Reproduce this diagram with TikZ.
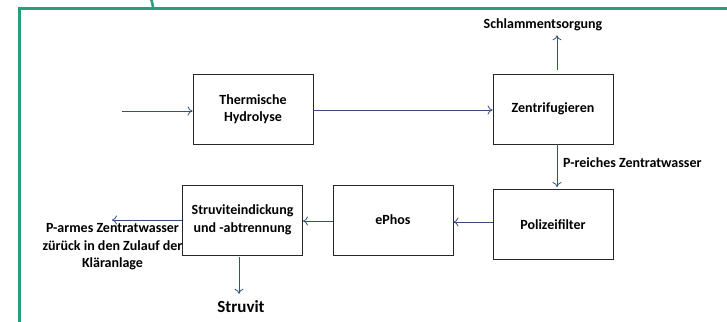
\documentclass[tikz,border=0pt]{standalone}
\usepackage{fontspec}
\setmainfont{Carlito}
\usetikzlibrary{arrows.meta}
\definecolor{rahmen}{RGB}{38,160,124}
\definecolor{pfeil}{RGB}{52,78,125}
\begin{document}
\begin{tikzpicture}[x=1pt,y=-1pt,
    font=\fontsize{14}{17.5}\selectfont\bfseries,
    box/.style={draw=black!85,line width=0.9pt,minimum width=120pt,minimum height=70pt,align=center},
    flow/.style={-{To[length=5pt,width=9pt,open]},draw=pfeil,line width=0.8pt},
    lbl/.style={align=center,inner sep=0pt}]
        \useasboundingbox (0,0) rectangle (727,321);

        % gruener Rahmen
        \draw[rahmen,line width=3.5pt] (19.5,330) -- (19.5,8.5) -- (740,8.5);
        \draw[rahmen,line width=2.5pt] (150.5,-2) to[bend left=10] (153,8.5);

        \node[box] (hyd) at (253,109) {Thermische\\Hydrolyse};
        \node[box] (zen) at (553,109) {Zentrifugieren};
        \node[box] (pol) at (553,224.5) {Polizeifilter};
        \node[box] (eph) at (393,220) {ePhos};
        \node[box] (str) at (242.5,220) {Struviteindickung\\und -abtrennung};

        \node[lbl] (schl) at (543,25) {Schlammentsorgung};
        \node[lbl,anchor=west] (preich) at (563,163) {P-reiches Zentratwasser};
        \node[lbl] (parm) at (112.5,247) {P-armes Zentratwasser\\zürück in den Zulauf der\\Kläranlage};
        \node[lbl,font=\fontsize{17}{20}\selectfont\bfseries] (struv) at (241,307) {Struvit};

        \coordinate (zulauf) at (122,111);
        \coordinate (ab) at (112,220);
        \coordinate (rechts) at (557,0);
        \coordinate (unten) at (239,0);

        \draw[flow] (zulauf) -- (zulauf -| hyd.west);
        \draw[flow] (hyd.east |- 0,110) -- (zen.west |- 0,110);
        \draw[flow,shorten <=4pt,shorten >=4pt] (zen.north -| rechts) -- (schl.south -| rechts);
        \draw[flow,shorten >=2pt] (zen.south -| rechts) -- (pol.north -| rechts);
        \draw[flow] (pol.west |- 0,222) -- (eph.east |- 0,222);
        \draw[flow] (eph.west |- 0,221) -- (str.east |- 0,221);
        \draw[flow] (str.west) -- (ab);
        \draw[flow,shorten <=2pt,shorten >=7pt] (str.south -| unten) -- (struv.north -| unten);
    \end{tikzpicture}
\end{document}
